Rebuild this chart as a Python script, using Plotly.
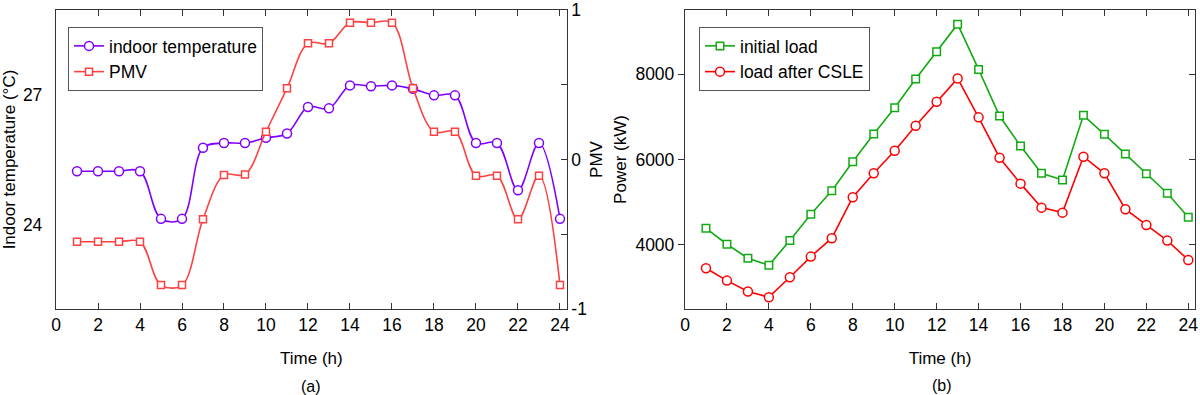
import plotly.graph_objects as go

hours = list(range(1, 25))

indoor_temp = [25.23, 25.23, 25.23, 25.23, 24.13, 24.13, 25.77, 25.88, 25.88, 26.0,
               26.10, 26.71, 26.68, 27.21, 27.19, 27.21, 27.13, 26.98, 26.98, 25.88,
               25.88, 24.79, 25.88, 24.13]
pmv = [-0.55, -0.55, -0.55, -0.55, -0.84, -0.84, -0.40, -0.104, -0.10, 0.186,
       0.476, 0.777, 0.777, 0.915, 0.915, 0.915, 0.476, 0.186, 0.186, -0.108,
       -0.108, -0.40, -0.108, -0.84]

initial_load = [4390, 4016, 3689, 3525, 4101, 4718, 5270, 5948, 6596, 7211,
                7883, 8521, 9169, 8109, 7017, 6316, 5677, 5520, 7034, 6589,
                6129, 5668, 5209, 4648]
load_after_csle = [3455, 3165, 2908, 2777, 3244, 3727, 4157, 5116, 5677, 6206,
                   6790, 7352, 7899, 6987, 6042, 5435, 4873, 4756, 6065, 5677,
                   4835, 4468, 4101, 3649]

x_ticks = list(range(0, 25, 2))
temp_ticks = [24, 27]
pmv_ticks = [-1, -0.5, 0, 0.5, 1]
pmv_ticktext = ["-1", "", "0", "", "1"]
power_ticks = [4000, 6000, 8000]

FONT = "Arial, Liberation Sans, sans-serif"
AX = "#333333"
PURPLE = "#8000ff"
RED_A = "#ff4040"
GREEN = "#12aa12"
RED_B = "#ff0000"

fig = go.Figure()

fig.add_trace(go.Scatter(
    x=hours, y=indoor_temp, name="indoor temperature", mode="lines+markers",
    line=dict(color=PURPLE, width=1.6, shape="spline", smoothing=1.0),
    marker=dict(symbol="circle", size=9, color="white", line=dict(color=PURPLE, width=1.5)),
    xaxis="x", yaxis="y", legend="legend"))
fig.add_trace(go.Scatter(
    x=hours, y=pmv, name="PMV", mode="lines+markers",
    line=dict(color=RED_A, width=1.6, shape="spline", smoothing=1.0),
    marker=dict(symbol="square", size=7, color="white", line=dict(color=RED_A, width=1.5)),
    xaxis="x", yaxis="y2", legend="legend"))

fig.add_trace(go.Scatter(
    x=hours, y=initial_load, name="initial load", mode="lines+markers",
    line=dict(color=GREEN, width=1.6),
    marker=dict(symbol="square", size=7.5, color="white", line=dict(color=GREEN, width=1.5)),
    xaxis="x2", yaxis="y3", legend="legend2"))
fig.add_trace(go.Scatter(
    x=hours, y=load_after_csle, name="load after CSLE", mode="lines+markers",
    line=dict(color=RED_B, width=1.6),
    marker=dict(symbol="circle", size=9, color="white", line=dict(color=RED_B, width=1.5)),
    xaxis="x2", yaxis="y3", legend="legend2"))
# empty trace to carry the inward ticks on the right edge of panel (b)
fig.add_trace(go.Scatter(x=[None], y=[None], xaxis="x2", yaxis="y4", showlegend=False,
                         hoverinfo="skip"))

ydom = [1 - 309 / 395, 1 - 10 / 395]
tickfont = dict(family=FONT, size=17.5, color="black")
titlefont = dict(family=FONT, size=17, color="black")

xcommon = dict(range=[0, 24.32], tickvals=x_ticks, ticks="inside", ticklen=6,
               tickcolor=AX, showline=True, linecolor=AX, linewidth=1.3, mirror="ticks",
               showgrid=False, zeroline=False, tickfont=tickfont, automargin=False,
               title=dict(text="Time (h)", font=titlefont, standoff=17))

fig.update_layout(
    width=1200, height=395,
    margin=dict(l=0, r=0, t=0, b=0, autoexpand=False),
    paper_bgcolor="white", plot_bgcolor="white",
    font=dict(family=FONT, color="black"),
    xaxis=dict(domain=[56 / 1200, 566.7 / 1200], anchor="y", **xcommon),
    yaxis=dict(domain=ydom, range=[22.05, 28.95], tickvals=temp_ticks, ticks="",
               showline=True, linecolor=AX, linewidth=1.3, showgrid=False, zeroline=False,
               tickfont=tickfont, ticklabelstandoff=9, automargin=False,
               title=dict(text="Indoor temperature (°C)", font=titlefont, standoff=6)),
    yaxis2=dict(overlaying="y", side="right", anchor="x", range=[-1, 1],
                tickvals=pmv_ticks, ticktext=pmv_ticktext, ticks="inside", ticklen=6,
                tickcolor=AX, showline=True, linecolor=AX, linewidth=1.3,
                showgrid=False, zeroline=False, tickfont=tickfont, automargin=False,
                title=dict(text="PMV", font=titlefont, standoff=4)),
    xaxis2=dict(domain=[685 / 1200, 1195 / 1200], anchor="y3", **xcommon),
    yaxis3=dict(domain=ydom, anchor="x2", range=[2500, 9500], tickvals=power_ticks,
                ticks="outside", ticklen=6, tickcolor=AX, showline=True, linecolor=AX,
                linewidth=1.3, showgrid=False, zeroline=False, tickfont=tickfont,
                automargin=False,
                title=dict(text="Power (kW)", font=titlefont, standoff=4)),
    yaxis4=dict(overlaying="y3", side="right", anchor="x2", range=[2500, 9500],
                tickvals=power_ticks, ticks="inside", ticklen=6, tickcolor=AX,
                showticklabels=False, showline=True, linecolor=AX, linewidth=1.3,
                showgrid=False, zeroline=False, automargin=False),
    legend=dict(x=68 / 1200, y=1 - 27 / 395, xanchor="left", yanchor="top",
                bgcolor="white", bordercolor="#555555", borderwidth=1,
                font=dict(family=FONT, size=17.5, color="black"), tracegroupgap=0),
    legend2=dict(x=699 / 1200, y=1 - 27 / 395, xanchor="left", yanchor="top",
                 bgcolor="white", bordercolor="#555555", borderwidth=1,
                 font=dict(family=FONT, size=17.5, color="black"), tracegroupgap=0),
    annotations=[
        dict(text="(a)", x=311 / 1200, y=1 - 386 / 395, xref="paper", yref="paper",
             showarrow=False, font=dict(family=FONT, size=16, color="black"),
             xanchor="center", yanchor="middle"),
        dict(text="(b)", x=942 / 1200, y=1 - 385 / 395, xref="paper", yref="paper",
             showarrow=False, font=dict(family=FONT, size=16, color="black"),
             xanchor="center", yanchor="middle"),
    ],
)

fig.write_html(
    "out.html",
    config={"displayModeBar": False},
    post_script="document.body.style.margin='0';document.body.style.overflow='hidden';",
)
